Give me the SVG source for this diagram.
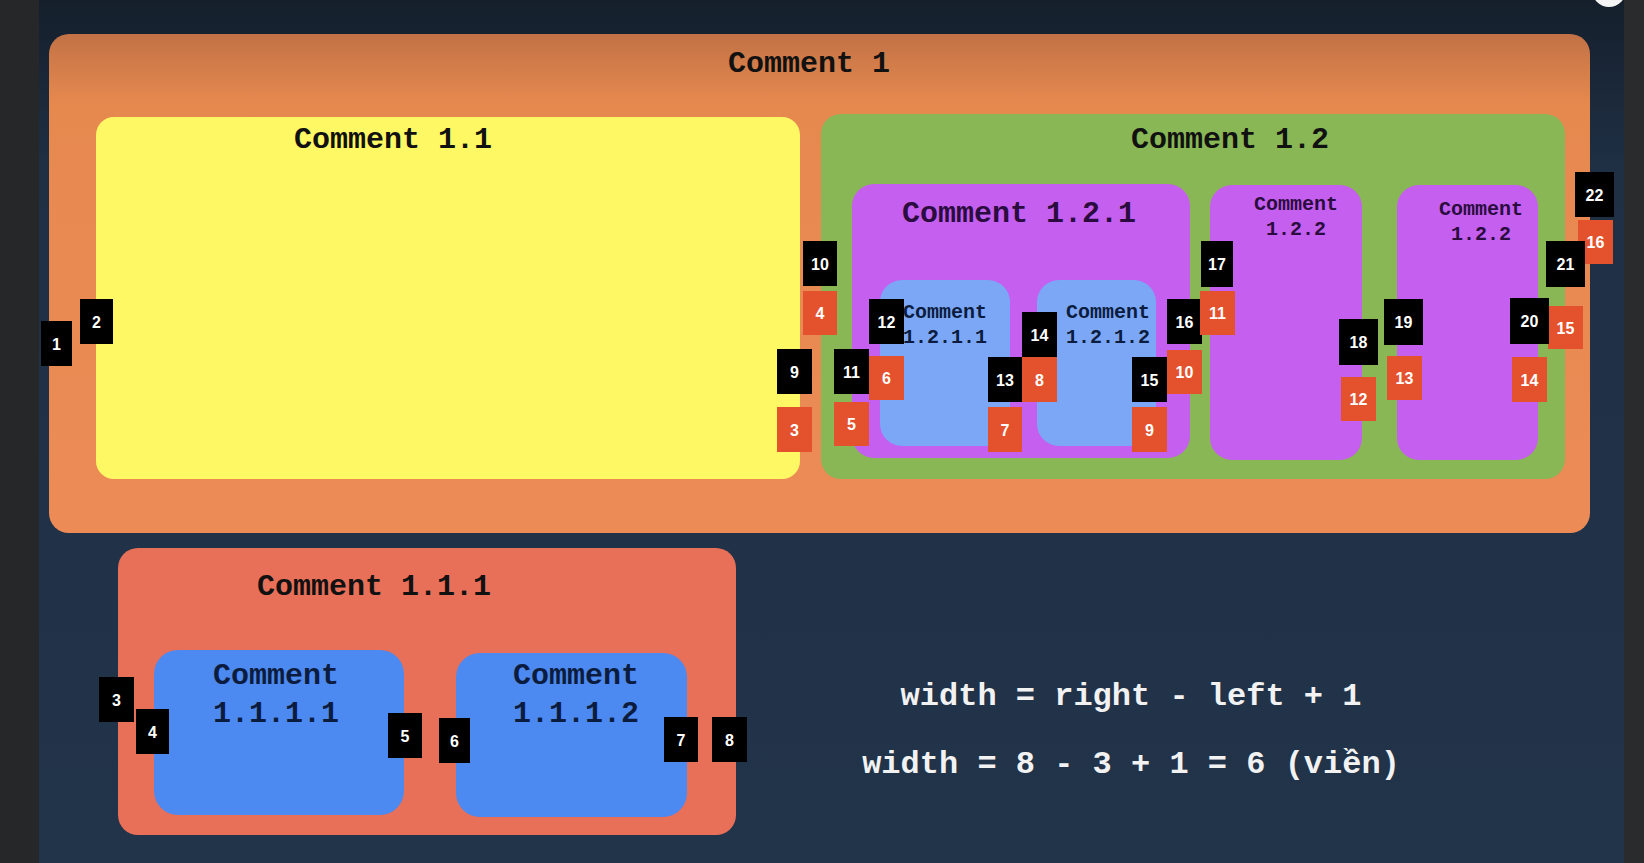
<svg xmlns="http://www.w3.org/2000/svg" width="1644" height="863" viewBox="0 0 1644 863">
<defs>
<linearGradient id="bg" x1="0" y1="0" x2="0" y2="1">
<stop offset="0" stop-color="#151f2c"/>
<stop offset="0.2" stop-color="#1f3045"/>
<stop offset="1" stop-color="#22344a"/>
</linearGradient>
<linearGradient id="org" x1="0" y1="0" x2="0" y2="1">
<stop offset="0" stop-color="#c27246"/>
<stop offset="0.14" stop-color="#e6894f"/>
<stop offset="1" stop-color="#ec8b56"/>
</linearGradient>
<style>
.b{fill:#000}
.r{fill:#e4522d}
.n{font-family:"Liberation Sans",Arial,sans-serif;font-weight:bold;font-size:16px;fill:#fff;text-anchor:middle}
.h{font-family:"Liberation Mono","Courier New",monospace;font-weight:bold;font-size:30px;fill:#111;text-anchor:middle}
.hp{fill:#2a0c3e}
.hb{fill:#0c1c3e}
.s{font-size:20px}
.f{font-family:"Liberation Mono","Courier New",monospace;font-weight:bold;font-size:32px;fill:#f2f2f2;text-anchor:middle}
</style>
</defs>
<rect x="0" y="0" width="1644" height="863" fill="url(#bg)"/>
<rect x="0" y="0" width="39" height="863" fill="#262729"/>
<rect x="1624" y="0" width="20" height="863" fill="#2a2b2d"/>
<circle cx="1609" cy="-10" r="17" fill="#f4f4f4"/>

<g id="comment-1">
<rect x="49" y="34" width="1541" height="499" rx="20" fill="url(#org)"/>
<text class="h" x="809" y="72">Comment 1</text>
</g>
<g id="comment-1-1">
<rect x="96" y="117" width="704" height="362" rx="18" fill="#fef865"/>
<text class="h" x="393" y="148">Comment 1.1</text>
</g>
<g id="comment-1-2">
<rect x="821" y="114" width="744" height="365" rx="20" fill="#89b755"/>
<text class="h" x="1230" y="148">Comment 1.2</text>
</g>
<g id="comment-1-2-1">
<rect x="852" y="184" width="338" height="274" rx="22" fill="#c45ff0"/>
<text class="h hp" x="1019" y="222">Comment 1.2.1</text>
</g>
<g id="comment-1-2-1-1">
<rect x="880" y="280" width="130" height="166" rx="22" fill="#7ba7f6"/>
<text class="h hb s" x="945" y="318">Comment</text>
<text class="h hb s" x="945" y="343">1.2.1.1</text>
</g>
<g id="comment-1-2-1-2">
<rect x="1037" y="280" width="119" height="166" rx="22" fill="#7ba7f6"/>
<text class="h hb s" x="1108" y="318">Comment</text>
<text class="h hb s" x="1108" y="343">1.2.1.2</text>
</g>
<g id="comment-1-2-2a">
<rect x="1210" y="185" width="152" height="275" rx="22" fill="#c45ff0"/>
<text class="h hp s" x="1296" y="210">Comment</text>
<text class="h hp s" x="1296" y="235">1.2.2</text>
</g>
<g id="comment-1-2-2b">
<rect x="1397" y="185" width="141" height="275" rx="22" fill="#c45ff0"/>
<text class="h hp s" x="1481" y="215">Comment</text>
<text class="h hp s" x="1481" y="240">1.2.2</text>
</g>
<g id="comment-1-1-1">
<rect x="118" y="548" width="618" height="287" rx="20" fill="#e86f58"/>
<text class="h" x="374" y="595">Comment 1.1.1</text>
</g>
<g id="comment-1-1-1-1">
<rect x="154" y="650" width="250" height="165" rx="24" fill="#4c89f0"/>
<text class="h hb" x="276" y="684">Comment</text>
<text class="h hb" x="276" y="722">1.1.1.1</text>
</g>
<g id="comment-1-1-1-2">
<rect x="456" y="653" width="231" height="164" rx="24" fill="#4c89f0"/>
<text class="h hb" x="576" y="684">Comment</text>
<text class="h hb" x="576" y="722">1.1.1.2</text>
</g>

<g id="connectors"/>

<g id="labels-top">
<g id="t1"><rect class="b" x="41" y="321" width="31" height="45"/><text class="n" x="56.5" y="349.5">1</text></g>
<g id="t2"><rect class="b" x="80" y="299" width="33" height="45"/><text class="n" x="96.5" y="327.5">2</text></g>
<g id="t10"><rect class="b" x="803" y="241" width="34" height="45"/><text class="n" x="820" y="269.5">10</text></g>
<g id="r4"><rect class="r" x="803" y="291" width="34" height="44"/><text class="n" x="820" y="319">4</text></g>
<g id="t9"><rect class="b" x="777" y="349" width="35" height="45"/><text class="n" x="794.5" y="377.5">9</text></g>
<g id="r3"><rect class="r" x="777" y="407" width="35" height="45"/><text class="n" x="794.5" y="435.5">3</text></g>
<g id="t11"><rect class="b" x="834" y="349" width="35" height="45"/><text class="n" x="851.5" y="377.5">11</text></g>
<g id="r5"><rect class="r" x="834" y="402" width="35" height="44"/><text class="n" x="851.5" y="430">5</text></g>
<g id="t12"><rect class="b" x="869" y="299" width="35" height="45"/><text class="n" x="886.5" y="327.5">12</text></g>
<g id="r6"><rect class="r" x="869" y="356" width="35" height="44"/><text class="n" x="886.5" y="384">6</text></g>
<g id="t13"><rect class="b" x="988" y="357" width="34" height="45"/><text class="n" x="1005" y="385.5">13</text></g>
<g id="r7"><rect class="r" x="988" y="407" width="34" height="45"/><text class="n" x="1005" y="435.5">7</text></g>
<g id="t14"><rect class="b" x="1022" y="312" width="35" height="45"/><text class="n" x="1039.5" y="340.5">14</text></g>
<g id="r8"><rect class="r" x="1022" y="357" width="35" height="45"/><text class="n" x="1039.5" y="385.5">8</text></g>
<g id="t15"><rect class="b" x="1132" y="357" width="35" height="45"/><text class="n" x="1149.5" y="385.5">15</text></g>
<g id="r9"><rect class="r" x="1132" y="407" width="35" height="45"/><text class="n" x="1149.5" y="435.5">9</text></g>
<g id="t16"><rect class="b" x="1167" y="299" width="35" height="45"/><text class="n" x="1184.5" y="327.5">16</text></g>
<g id="r10"><rect class="r" x="1167" y="350" width="35" height="44"/><text class="n" x="1184.5" y="378">10</text></g>
<g id="t17"><rect class="b" x="1201" y="241" width="32" height="46"/><text class="n" x="1217" y="270">17</text></g>
<g id="r11"><rect class="r" x="1200" y="291" width="35" height="44"/><text class="n" x="1217.5" y="319">11</text></g>
<g id="t18"><rect class="b" x="1339" y="319" width="39" height="46"/><text class="n" x="1358.5" y="348">18</text></g>
<g id="r12"><rect class="r" x="1341" y="377" width="35" height="44"/><text class="n" x="1358.5" y="405">12</text></g>
<g id="t19"><rect class="b" x="1384" y="299" width="39" height="46"/><text class="n" x="1403.5" y="328">19</text></g>
<g id="r13"><rect class="r" x="1387" y="356" width="35" height="44"/><text class="n" x="1404.5" y="384">13</text></g>
<g id="r15"><rect class="r" x="1548" y="306" width="35" height="43"/><text class="n" x="1565.5" y="333.5">15</text></g>
<g id="t20"><rect class="b" x="1510" y="298" width="39" height="46"/><text class="n" x="1529.5" y="327">20</text></g>
<g id="r14"><rect class="r" x="1512" y="357" width="35" height="45"/><text class="n" x="1529.5" y="385.5">14</text></g>
<g id="t22"><rect class="b" x="1575" y="172" width="39" height="45"/><text class="n" x="1594.5" y="200.5">22</text></g>
<g id="r16"><rect class="r" x="1578" y="220" width="35" height="44"/><text class="n" x="1595.5" y="248">16</text></g>
<g id="t21"><rect class="b" x="1546" y="241" width="39" height="46"/><text class="n" x="1565.5" y="270">21</text></g>
</g>

<g id="labels-bottom">
<g id="b3"><rect class="b" x="99" y="677" width="35" height="45"/><text class="n" x="116.5" y="705.5">3</text></g>
<g id="b4"><rect class="b" x="136" y="709" width="33" height="45"/><text class="n" x="152.5" y="737.5">4</text></g>
<g id="b5"><rect class="b" x="388" y="713" width="34" height="45"/><text class="n" x="405" y="741.5">5</text></g>
<g id="b6"><rect class="b" x="439" y="718" width="31" height="45"/><text class="n" x="454.5" y="746.5">6</text></g>
<g id="b7"><rect class="b" x="664" y="717" width="34" height="45"/><text class="n" x="681" y="745.5">7</text></g>
<g id="b8"><rect class="b" x="712" y="717" width="35" height="45"/><text class="n" x="729.5" y="745.5">8</text></g>
</g>

<g id="formula">
<text class="f" x="1131" y="705">width = right - left + 1</text>
<text class="f" x="1131" y="773">width = 8 - 3 + 1 = 6 (viền)</text>
</g>
</svg>
